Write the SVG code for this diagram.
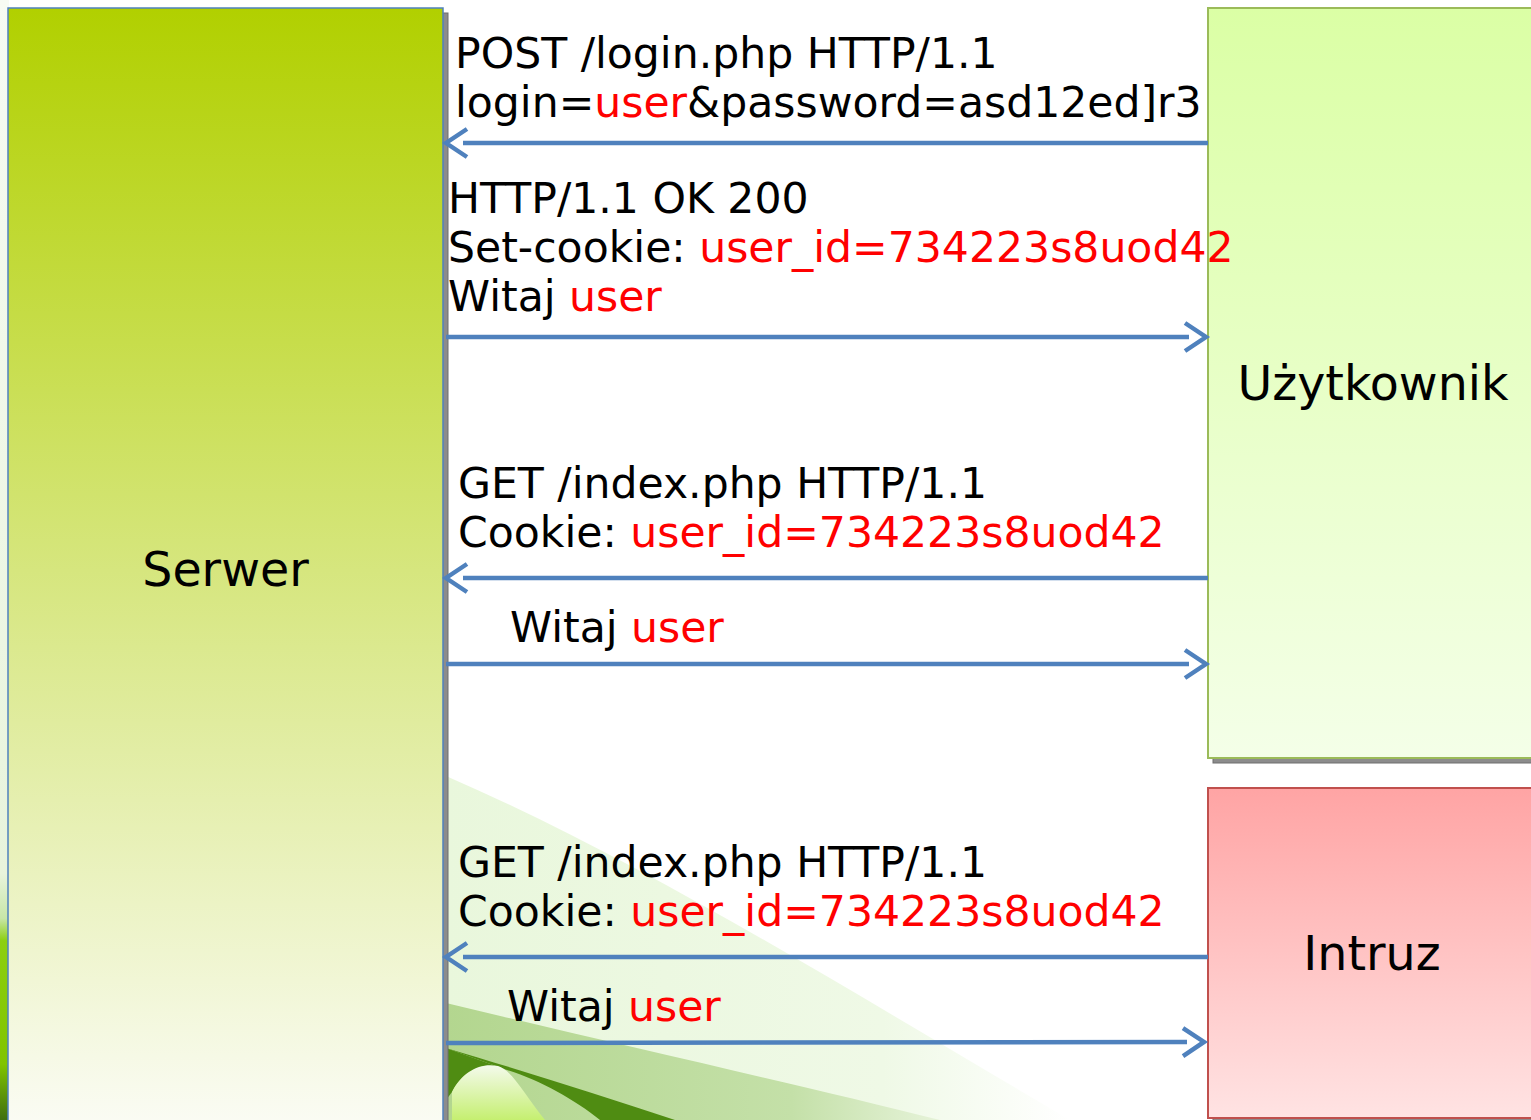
<svg xmlns="http://www.w3.org/2000/svg" width="1531" height="1120" viewBox="0 0 1531 1120">
<style>
.node-lbl{font-family:"DejaVu Sans","Liberation Sans",sans-serif;font-size:47.5px;fill:#000;text-anchor:middle}
.msg{font-family:"DejaVu Sans","Liberation Sans",sans-serif;font-size:42.55px;fill:#000}
.r{fill:#ff0000}
.arrow{stroke:#4f81bd;stroke-width:4.5;fill:none}
.shadow{fill:#8c8c8c;stroke:#6e6e6e;stroke-width:1}
</style>
<defs>
<linearGradient id="gServer" x1="0" y1="0" x2="0" y2="1">
<stop offset="0" stop-color="#b1d000"/>
<stop offset="0.5" stop-color="#d6e67e"/>
<stop offset="1" stop-color="#fbfcf6"/>
</linearGradient>
<linearGradient id="gUser" x1="0" y1="0" x2="0" y2="1">
<stop offset="0" stop-color="#dbffa5"/>
<stop offset="1" stop-color="#f4ffe8"/>
</linearGradient>
<linearGradient id="gIntr" x1="0" y1="0" x2="0" y2="1">
<stop offset="0" stop-color="#ffa4a4"/>
<stop offset="1" stop-color="#ffe3e3"/>
</linearGradient>
<linearGradient id="gLight" x1="0" y1="0" x2="1" y2="0">
<stop offset="0" stop-color="#e9f7dc"/>
<stop offset="0.7" stop-color="#eff9e6"/>
<stop offset="1" stop-color="#ffffff"/>
</linearGradient>
<linearGradient id="gMed" x1="0" y1="0" x2="1" y2="0">
<stop offset="0" stop-color="#b3d68f"/>
<stop offset="0.7" stop-color="#c4e0a8"/>
<stop offset="1" stop-color="#e6f3d9"/>
</linearGradient>
<linearGradient id="gBlob" x1="0" y1="0" x2="0" y2="1">
<stop offset="0" stop-color="#f4faec"/>
<stop offset="1" stop-color="#c5ef70"/>
</linearGradient>
<linearGradient id="gStrip" x1="0" y1="0" x2="0" y2="1">
<stop offset="0" stop-color="#f7fbf3"/>
<stop offset="0.78" stop-color="#e8f4dc"/>
<stop offset="0.82" stop-color="#c8e6a8"/>
<stop offset="0.84" stop-color="#8ccf10"/>
<stop offset="0.95" stop-color="#80c400"/>
<stop offset="1" stop-color="#3f6f10"/>
</linearGradient>
<marker id="ah" markerUnits="userSpaceOnUse" markerWidth="40" markerHeight="40" orient="auto" overflow="visible" refX="-17" refY="0">
<path d="M-21,-14 L0,0 L-21,14" fill="none" stroke="#4f81bd" stroke-width="4.5"/>
</marker>
</defs>

<g id="background">
<rect x="0" y="0" width="1531" height="1120" fill="#ffffff"/>
<rect x="0" y="0" width="9" height="1120" fill="url(#gStrip)"/>
<path d="M446,776 C640,860 840,985 1070,1120 L446,1120 Z" fill="url(#gLight)"/>
<path d="M446,1003 C620,1045 800,1085 940,1120 L446,1120 Z" fill="url(#gMed)"/>
<path d="M446,1048 C520,1070 600,1095 675,1120 L600,1120 C575,1100 540,1080 507,1070 Z" fill="#4f8c12"/>
<path d="M446,1048 L507,1070 C480,1062 462,1072 452,1092 L446,1100 Z" fill="#4f8c12"/>
<path d="M452,1092 C462,1072 480,1062 498,1066 C512,1070 525,1095 545,1120 L452,1120 Z" fill="url(#gBlob)"/>
</g>

<g id="node-serwer">
<rect class="shadow" x="13" y="13" width="435" height="1120"/>
<rect x="8" y="8" width="435" height="1125" fill="url(#gServer)" stroke="#4f81bd" stroke-width="1.5"/>
<text class="node-lbl" x="225.5" y="586">Serwer</text>
</g>

<g id="node-uzytkownik">
<rect class="shadow" x="1213" y="13" width="330" height="750"/>
<rect x="1208" y="8" width="330" height="750" fill="url(#gUser)" stroke="#9bbb59" stroke-width="2"/>
<text class="node-lbl" x="1373" y="400">Użytkownik</text>
</g>

<g id="node-intruz">
<rect class="shadow" x="1213" y="793" width="330" height="330"/>
<rect x="1208" y="788" width="330" height="330" fill="url(#gIntr)" stroke="#c0504d" stroke-width="2"/>
<text class="node-lbl" x="1372" y="970">Intruz</text>
</g>

<g id="connectors">
<line class="arrow" x1="1208" y1="143" x2="463" y2="143" marker-end="url(#ah)"/>
<line class="arrow" x1="446" y1="337" x2="1189" y2="337" marker-end="url(#ah)"/>
<line class="arrow" x1="1208" y1="578" x2="463" y2="578" marker-end="url(#ah)"/>
<line class="arrow" x1="446" y1="664" x2="1189" y2="664" marker-end="url(#ah)"/>
<line class="arrow" x1="1208" y1="957" x2="463" y2="957" marker-end="url(#ah)"/>
<line class="arrow" x1="446" y1="1043" x2="1187" y2="1042" marker-end="url(#ah)"/>

<text class="msg" x="455" y="68">POST /login.php HTTP/1.1</text>
<text class="msg" x="455" y="117">login=<tspan class="r">user</tspan>&amp;password=asd12ed]r3</text>

<text class="msg" x="448" y="213">HTTP/1.1 OK 200</text>
<text class="msg" x="448" y="262">Set-cookie: <tspan class="r">user_id=734223s8uod42</tspan></text>
<text class="msg" x="448" y="311">Witaj <tspan class="r">user</tspan></text>

<text class="msg" x="458" y="498">GET /index.php HTTP/1.1</text>
<text class="msg" x="458" y="547">Cookie: <tspan class="r">user_id=734223s8uod42</tspan></text>

<text class="msg" x="510" y="642">Witaj <tspan class="r">user</tspan></text>

<text class="msg" x="458" y="877">GET /index.php HTTP/1.1</text>
<text class="msg" x="458" y="926">Cookie: <tspan class="r">user_id=734223s8uod42</tspan></text>

<text class="msg" x="507" y="1021">Witaj <tspan class="r">user</tspan></text>
</g>
</svg>
